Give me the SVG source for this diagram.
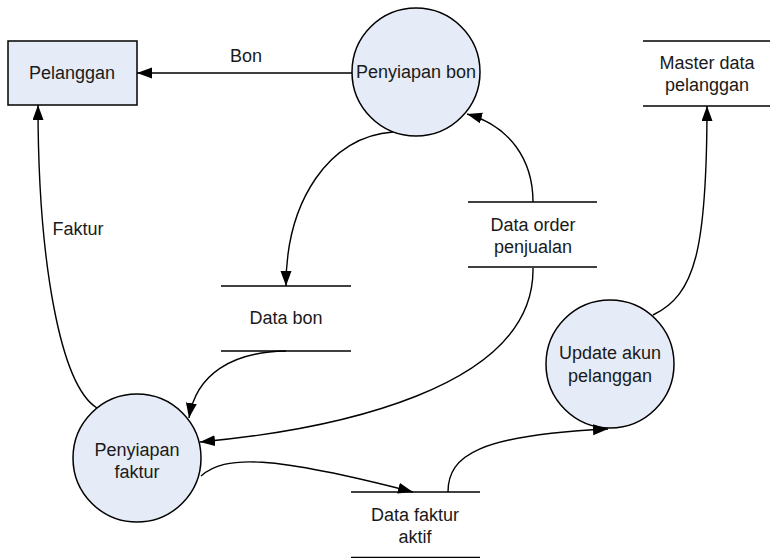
<svg xmlns="http://www.w3.org/2000/svg" width="770" height="558" viewBox="0 0 770 558">
  <style>
    .proc { fill: #E6ECF7; stroke: #000; stroke-width: 1.5; }
    .store { stroke: #000; stroke-width: 1.5; fill: none; }
    .flow { fill: none; stroke: #000; stroke-width: 1.4; marker-end: url(#arrow); }
    text { font-family: "Liberation Sans", Arial, sans-serif; font-size: 18px; fill: #1a1a1a; text-anchor: middle; dominant-baseline: central; }
  </style>
  <defs>
    <marker id="arrow" markerUnits="userSpaceOnUse" markerWidth="16" markerHeight="12" refX="15" refY="5.5" orient="auto">
      <path d="M0,0 L15,5.5 L0,11 z" fill="#000"/>
    </marker>
  </defs>
  <rect width="770" height="558" fill="#fff"/>

  <!-- external entity -->
  <g id="pelanggan">
    <rect class="proc" x="8" y="41" width="129" height="64"/>
    <text x="72" y="73">Pelanggan</text>
  </g>

  <!-- processes -->
  <g id="penyiapan-bon">
    <circle class="proc" cx="416" cy="72" r="64"/>
    <text x="416" y="72">Penyiapan bon</text>
  </g>
  <g id="penyiapan-faktur">
    <circle class="proc" cx="137" cy="458" r="64"/>
    <text x="137" y="450">Penyiapan</text>
    <text x="137" y="472">faktur</text>
  </g>
  <g id="update-akun">
    <circle class="proc" cx="610" cy="364" r="64"/>
    <text x="610" y="353">Update akun</text>
    <text x="610" y="376">pelanggan</text>
  </g>

  <!-- data stores -->
  <g id="master-data">
    <line class="store" x1="643" y1="41" x2="770" y2="41"/>
    <line class="store" x1="643" y1="106" x2="770" y2="106"/>
    <text x="707" y="63">Master data</text>
    <text x="707" y="85">pelanggan</text>
  </g>
  <g id="data-order">
    <line class="store" x1="468" y1="202" x2="597" y2="202"/>
    <line class="store" x1="468" y1="267" x2="597" y2="267"/>
    <text x="533" y="225">Data order</text>
    <text x="533" y="247">penjualan</text>
  </g>
  <g id="data-bon">
    <line class="store" x1="221" y1="286" x2="351" y2="286"/>
    <line class="store" x1="221" y1="351" x2="351" y2="351"/>
    <text x="286" y="318">Data bon</text>
  </g>
  <g id="data-faktur">
    <line class="store" x1="351" y1="492" x2="480" y2="492"/>
    <line class="store" x1="351" y1="557.5" x2="480" y2="557.5"/>
    <text x="415" y="515">Data faktur</text>
    <text x="415" y="537">aktif</text>
  </g>

  <!-- data flows -->
  <g id="connectors">
    <path class="flow" d="M352,73 L137,73"/>
    <path class="flow" d="M393,132 C330,136 286,200 286,286"/>
    <path class="flow" d="M533,202 C533,160 510,126 467,114"/>
    <path class="flow" d="M286,351 C232,352 196,374 189,418"/>
    <path class="flow" d="M533,268 C535,390 330,430 200,442"/>
    <path class="flow" d="M97,408 C60,385 38,260 38,105"/>
    <path class="flow" d="M201,476 C225,455 270,455 413,492"/>
    <path class="flow" d="M448,492 C448,455 480,435 608,429"/>
    <path class="flow" d="M653,315 C695,295 707,250 707,106"/>
    <text x="246" y="56">Bon</text>
    <text x="78" y="229">Faktur</text>
  </g>
</svg>
